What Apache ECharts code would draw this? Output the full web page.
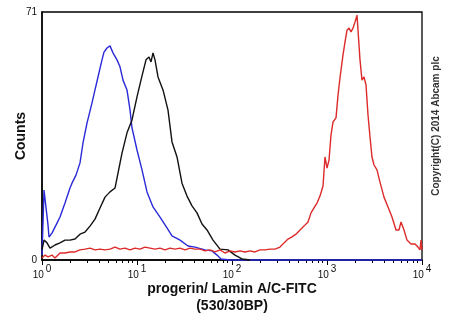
<!DOCTYPE html>
<html><head><meta charset="utf-8">
<script src="https://cdn.jsdelivr.net/npm/echarts@6/dist/echarts.min.js"></script>
<style>html,body{margin:0;padding:0;background:#fff}#c{width:450px;height:330px}</style>
</head><body><div id="c"></div>
<script>
// Fluorescence intensity (log axis) values and event counts
const blueX = [1.000,1.050,1.102,1.157,1.185,1.274,1.404,1.547,1.746,1.971,2.069,2.280,2.512,2.702,2.976,3.360,3.613,3.886,4.281,4.494,4.833,5.197,5.590,6.158,6.624,7.124,7.848,8.440,8.860,10.00,11.29,12.74,14.74,17.47,20.69,23.36,28.36,34.43,40.78,51.97,61.58,69.52,76.6,95.3,10000];
const blueY = [1.4,20,20,10,6.6,7.7,10,12.3,16.3,20.6,22,24.3,27.8,33.5,39.2,45,48.7,52.4,57.3,59.5,60.7,61.3,59.3,57.3,55.3,51.5,48.7,43,37.8,31.5,25.8,19.5,15.2,12.3,9.2,6.9,5.7,4,3.7,2.9,2.6,1.4,0.3,0,0];

const blackX = [1.000,1.050,1.129,1.214,1.370,1.547,1.746,1.971,2.225,2.512,2.836,3.200,3.613,4.078,4.605,5.197,5.867,6.464,6.952,7.848,8.860,10.00,11.29,12.44,13.37,14.04,14.74,15.47,16.64,18.78,21.20,23.36,26.37,29.76,33.60,37.93,42.81,48.33,54.56,63.10,74.77,90.77,107.5,127.4,154.7];
const blackY = [2.9,5.7,4.9,3.4,4.3,4.9,5.7,5.7,6.0,7.4,8.0,9.7,11.7,14.9,18.0,19.5,20.6,26.3,30.6,36.4,40.1,46.7,52.7,57.3,58.1,56.7,59.3,57.3,52.4,48.7,42.9,33.8,29.5,22,18.3,15.5,13.5,10.3,8.6,5.7,3.1,2.9,1.4,0.3,0];

const redX = [1.000,1.0755,1.157,1.274,1.370,1.547,1.746,1.971,2.225,2.512,2.836,3.200,3.613,4.078,4.605,5.197,5.867,6.624,7.477,8.440,9.527,10.75,12.14,13.70,15.47,17.47,19.71,22.25,25.12,28.36,32.01,36.14,40.78,46.05,51.97,58.67,66.24,74.77,84.40,95.27,107.5,121.4,137.0,154.7,174.6,197.1,222.5,251.2,283.6,320.0,352.7,388.6,428.1,471.7,519.7,572.6,631.0,678.6,729.9,784.8,844.0,907.7,952.7,1000,1050,1102,1157,1244,1306,1370,1474,1547,1624,1704,1789,1878,1971,2069,2120,2225,2336,2452,2574,2702,2836,2976,3124,3360,3613,3981,4387,4833,5325,5726,6010,6464,6952,7660,8440,9077,9527,9760,10000];
const redY = [0.6,1.4,0.9,1.4,0.6,2.0,2.0,2.3,2.3,2.9,3.1,3.4,2.9,3.1,2.9,3.1,3.7,3.1,3.4,2.9,3.4,3.1,3.7,3.4,3.1,3.4,2.9,3.4,3.1,3.4,2.9,3.4,3.1,3.1,2.6,2.9,2.3,2.9,2.0,2.6,2.3,2.6,2.3,2.6,2.3,2.9,2.9,3.1,3.1,3.7,4.9,6.0,6.6,7.4,8.6,9.7,10.9,13.5,14.9,16.3,18.3,21.2,29.5,26.3,28.6,35.8,39.5,40.7,47.2,52.1,58.7,62.4,65.8,66.4,65.3,66.4,68.1,70.1,65.8,57.3,51.5,52.4,50.1,41.5,35.2,29.5,27.2,25.8,22.3,18.0,15.2,12.3,8.6,8.6,10.9,8.6,5.7,4.6,4.6,3.7,2.9,5.7,2.9];

const decadeTicks = [1,10,100,1000,10000];
const decadeExponents = ['0','1','2','3','4'];
const minorTicks = [2,3,4,5,6,7,8,9,20,30,40,50,60,70,80,90,200,300,400,500,600,700,800,900,2000,3000,4000,5000,6000,7000,8000,9000];
const yTicks = [0,71];

const FONT = "'Liberation Sans', Arial, sans-serif";
const pair = (xs, ys) => xs.map((x, i) => [x, ys[i]]);
function expLabel(v) {
  let best = 0;
  decadeTicks.forEach((d, i) => { if (Math.abs(Math.log10(v) - Math.log10(d)) < Math.abs(Math.log10(v) - Math.log10(decadeTicks[best]))) best = i; });
  return '{a|10}{b|' + decadeExponents[best] + '}';
}

const chart = echarts.init(document.getElementById('c'), null, {renderer: 'canvas'});
chart.setOption({
  animation: false,
  backgroundColor: '#fff',
  grid: {left: 42, right: 28, top: 12, bottom: 70, show: true, borderColor: '#000', borderWidth: 1.3, containLabel: false, outerBoundsMode: 'none'},
  xAxis: [{
    type: 'log', logBase: 10, min: 1, max: 10000, position: 'bottom',
    axisLine: {show: true, lineStyle: {color: '#000', width: 1.5}},
    axisTick: {show: true, customValues: decadeTicks, length: 5, lineStyle: {color: '#000', width: 1}},
    minorTick: {show: false},
    splitLine: {show: false},
    axisLabel: {
      customValues: decadeTicks, margin: 7, formatter: expLabel, color: '#111',
      rich: {
        a: {fontSize: 10, fontFamily: FONT, color: '#111', lineHeight: 13, verticalAlign: 'bottom'},
        b: {fontSize: 10, fontFamily: FONT, color: '#111', lineHeight: 13, verticalAlign: 'bottom', padding: [0, 0, 6, 2]}
      }
    },
    name: 'progerin/ Lamin A/C-FITC\n(530/30BP)',
    nameLocation: 'middle', nameGap: 21, nameMoveOverlap: false,
    nameTextStyle: {fontFamily: FONT, fontWeight: 'bold', fontSize: 14, lineHeight: 17, color: '#111'}
  }, {
    type: 'log', logBase: 10, min: 1, max: 10000, position: 'bottom', gridIndex: 0,
    axisLine: {show: false},
    axisTick: {show: true, customValues: minorTicks, length: 3, lineStyle: {color: '#000', width: 1}},
    axisLabel: {show: false},
    splitLine: {show: false}
  }],
  yAxis: {
    type: 'value', min: 0, max: 71,
    axisLine: {show: true, lineStyle: {color: '#000', width: 1.5}},
    axisTick: {show: false},
    splitLine: {show: false},
    axisLabel: {customValues: yTicks, margin: 5, fontSize: 10, fontFamily: FONT, color: '#111'},
    name: 'Counts', nameLocation: 'middle', nameGap: 14, nameMoveOverlap: false,
    nameTextStyle: {fontFamily: FONT, fontWeight: 'bold', fontSize: 14, color: '#111'}
  },
  graphic: [{
    type: 'text', x: 436, y: 126, rotation: Math.PI / 2,
    style: {text: 'Copyright(C) 2014 Abcam plc', font: 'bold 10px ' + FONT, fill: '#333', align: 'center', verticalAlign: 'middle'}
  }],
  series: [
    {type: 'line', name: 'blue', data: pair(blueX, blueY), showSymbol: false, clip: false, lineStyle: {color: '#2a2ad8', width: 1.4}, itemStyle: {color: '#2a2ad8'}},
    {type: 'line', name: 'black', data: pair(blackX, blackY), showSymbol: false, clip: false, lineStyle: {color: '#111', width: 1.4}, itemStyle: {color: '#111'}},
    {type: 'line', name: 'red', data: pair(redX, redY), showSymbol: false, clip: false, lineStyle: {color: '#dd2a2a', width: 1.4}, itemStyle: {color: '#dd2a2a'}}
  ]
});
</script>
</body></html>
